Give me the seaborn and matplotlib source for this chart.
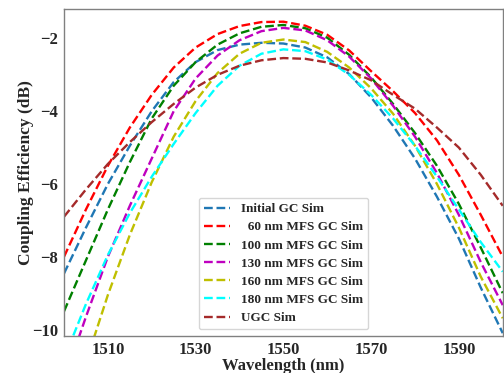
import matplotlib
matplotlib.use("Agg")
import matplotlib.pyplot as plt
import seaborn as sns
import pandas as pd

wavelength = [1500, 1505, 1510, 1515, 1520, 1525, 1530, 1535, 1540, 1545, 1550,
              1555, 1560, 1565, 1570, 1575, 1580, 1585, 1590, 1595, 1600]

initial_gc = [-8.46, -7.2, -6.0, -4.95, -4.0, -3.2, -2.65, -2.32, -2.17, -2.12, -2.14,
              -2.25, -2.52, -2.98, -3.62, -4.4, -5.3, -6.35, -7.5, -8.85, -10.1]
mfs_60 = [-8.0, -6.7, -5.5, -4.45, -3.55, -2.8, -2.25, -1.88, -1.66, -1.55, -1.54,
          -1.65, -1.9, -2.33, -2.9, -3.45, -4.05, -4.8, -5.75, -6.85, -8.0]
mfs_100 = [-9.5, -8.1, -6.7, -5.4, -4.2, -3.3, -2.65, -2.17, -1.86, -1.68, -1.63,
           -1.72, -1.98, -2.45, -3.07, -3.8, -4.6, -5.5, -6.55, -7.75, -9.0]
mfs_130 = [-11.4, -9.65, -8.0, -6.6, -5.3, -4.0, -3.1, -2.47, -2.05, -1.8, -1.71,
           -1.78, -2.05, -2.5, -3.1, -3.85, -4.7, -5.7, -6.85, -8.15, -9.33]
mfs_160 = [-12.8, -10.9, -9.05, -7.4, -5.95, -4.7, -3.72, -2.95, -2.42, -2.12, -2.03,
           -2.1, -2.37, -2.8, -3.37, -4.07, -4.95, -6.0, -7.2, -8.55, -9.69]
mfs_180 = [-10.8, -9.3, -7.95, -6.8, -5.8, -4.9, -4.05, -3.3, -2.75, -2.42, -2.3,
           -2.35, -2.58, -3.0, -3.55, -4.2, -4.95, -5.8, -6.7, -7.6, -8.41]
ugc = [-6.9, -6.15, -5.45, -4.85, -4.3, -3.8, -3.35, -3.0, -2.75, -2.6, -2.54,
       -2.56, -2.66, -2.88, -3.15, -3.55, -3.93, -4.45, -5.0, -5.75, -6.6]

labels = ["Initial GC Sim", "  60 nm MFS GC Sim", "100 nm MFS GC Sim",
          "130 nm MFS GC Sim", "160 nm MFS GC Sim", "180 nm MFS GC Sim", "UGC Sim"]
series = [initial_gc, mfs_60, mfs_100, mfs_130, mfs_160, mfs_180, ugc]
colors = ["#1f77b4", "red", "green", "m", "y", "cyan", "brown"]

x_ticks = [1510, 1530, 1550, 1570, 1590]
y_ticks = [-2, -4, -6, -8, -10]

sns.set_style("white")
plt.rcParams["font.family"] = ["Liberation Serif", "DejaVu Serif"]
plt.rcParams["font.weight"] = "bold"
plt.rcParams["axes.labelweight"] = "bold"

fig = plt.figure(figsize=(5.04, 3.73), dpi=100)
ax = fig.add_axes([0.127, 0.099, 0.8705, 0.876])

for lab, vals, col in zip(labels, series, colors):
    df = pd.DataFrame({"Wavelength": wavelength, "CE": vals})
    sns.lineplot(data=df, x="Wavelength", y="CE", ax=ax, color=col,
                 linestyle="--", linewidth=1.7, label=lab)

ax.set_xlim(1500, 1600)
ax.set_ylim(-10.18, -1.2)
ax.set_xticks(x_ticks)
ax.set_yticks(y_ticks)
ax.set_xlabel("Wavelength (nm)", fontsize=12, fontweight="bold", labelpad=0)
ax.set_ylabel("Coupling Efficiency (dB)", fontsize=12.5, fontweight="bold", labelpad=-2)
ax.tick_params(axis="both", direction="out", length=3, width=0.8, color="#808080",
               labelsize=12, pad=1.5)
for lbl in ax.get_xticklabels() + ax.get_yticklabels():
    lbl.set_fontweight("bold")
for sp in ax.spines.values():
    sp.set_visible(True)
    sp.set_color("#808080")
    sp.set_linewidth(1.0)

leg = ax.legend(loc="lower center", bbox_to_anchor=(0.5, 0.0), fontsize=9.5,
                frameon=True, handlelength=2.0, labelspacing=0.45)
for t in leg.get_texts():
    t.set_fontweight("bold")

fig.savefig("out.png", dpi=100)
